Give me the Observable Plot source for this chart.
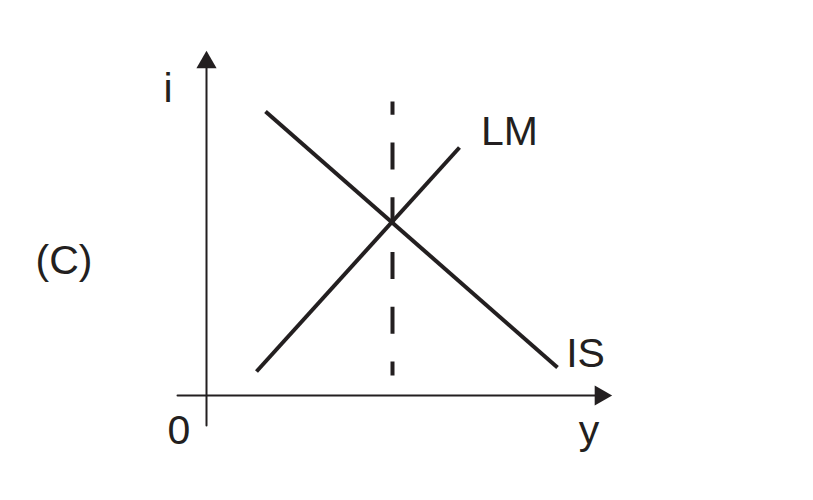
<!DOCTYPE html>
<html>
<head>
<meta charset="utf-8">
<script src="https://cdn.jsdelivr.net/npm/d3@7"></script>
<script src="https://cdn.jsdelivr.net/npm/@observablehq/plot@0.6"></script>
<style>
  html, body { margin: 0; padding: 0; background: #fff; }
  #chart svg { display: block; }
</style>
</head>
<body>
<div id="chart"></div>
<script>
// IS–LM diagram (panel C), abstract units
const lmCurve = [ {y: 1.25, i: 0.706}, {y: 6.325, i: 7.294} ];
const isCurve = [ {y: 1.475, i: 8.353}, {y: 8.775, i: 0.824} ];
const equilibrium = [ {y: 4.65, i: 0.588}, {y: 4.65, i: 8.647} ];
const yAxisLine = [ {y: 0, i: -0.882}, {y: 0, i: 9.7} ];
const xAxisLine = [ {y: -0.725, i: 0}, {y: 9.75, i: 0} ];
const arrowHeads = [ {y: 0, i: 9.794, rotate: 0}, {y: 9.85, i: 0, rotate: 90} ];
const labels = [
  {y: -0.9625, i: 8.618, text: "i"},
  {y: -0.6875, i: -1.412, text: "0"},
  {y: 9.56, i: -1.412, text: "y"},
  {y: 7.575, i: 7.382, text: "LM"},
  {y: 9.475, i: 0.824, text: "IS"},
  {y: -3.5625, i: 3.56, text: "(C)"}
];

const ink = "#231f20";
const font = "Liberation Sans, Arial, sans-serif";

const chart = Plot.plot({
  width: 813,
  height: 500,
  margin: 0,
  x: {domain: [0, 10], range: [206, 606], axis: null},
  y: {domain: [0, 10], range: [395, 55], axis: null},
  style: {background: "#fff"},
  marks: [
    Plot.line(yAxisLine, {x: "y", y: "i", stroke: ink, strokeWidth: 2}),
    Plot.line(xAxisLine, {x: "y", y: "i", stroke: ink, strokeWidth: 2}),
    Plot.dot(arrowHeads, {x: "y", y: "i", rotate: "rotate", symbol: "triangle", r: 7.5, fill: ink, stroke: "none"}),
    Plot.line(equilibrium, {x: "y", y: "i", stroke: ink, strokeWidth: 4, strokeDasharray: "27,27.75", strokeDashoffset: 13, strokeLinecap: "butt"}),
    Plot.line(lmCurve, {x: "y", y: "i", stroke: ink, strokeWidth: 4, strokeLinecap: "butt"}),
    Plot.line(isCurve, {x: "y", y: "i", stroke: ink, strokeWidth: 4, strokeLinecap: "butt"}),
    Plot.text(labels, {x: "y", y: "i", text: "text", fill: ink, fontSize: 41, fontFamily: font, textAnchor: "middle", lineAnchor: "bottom"})
  ]
});
document.getElementById("chart").appendChild(chart);
</script>
</body>
</html>
